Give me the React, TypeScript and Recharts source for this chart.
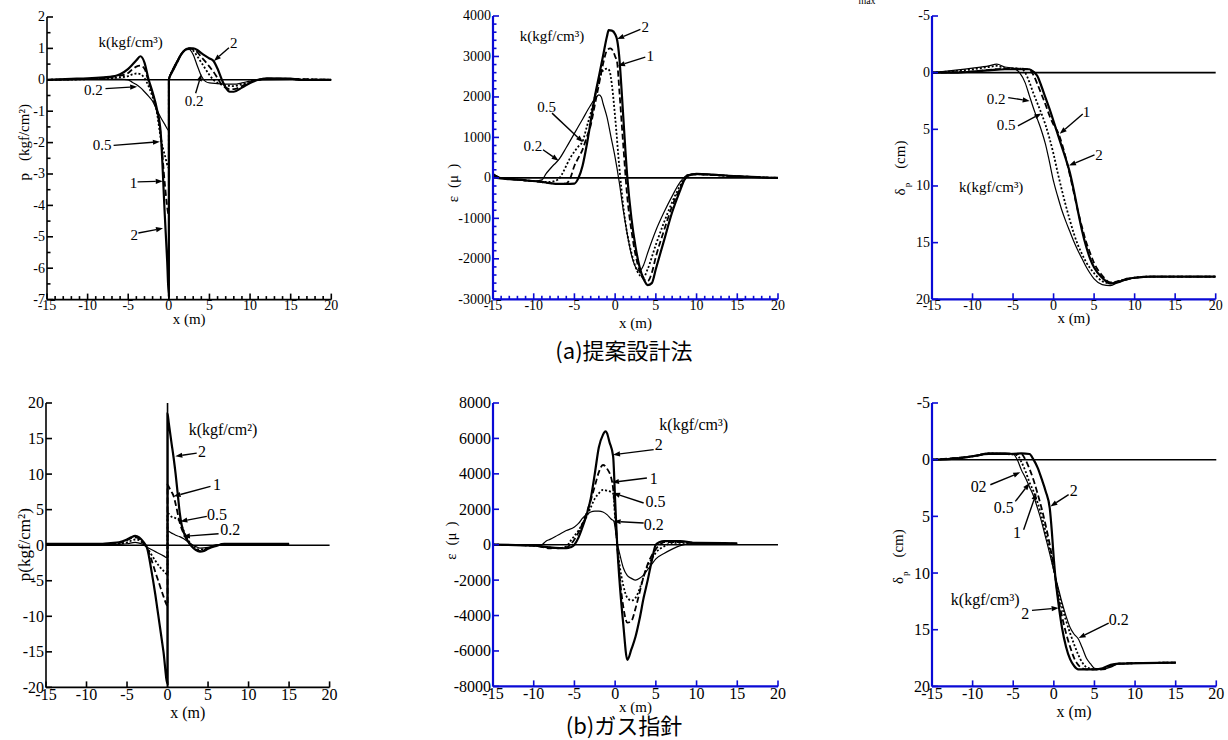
import React from 'react';
import { LineChart, Line, XAxis, YAxis, ReferenceLine, ReferenceDot } from 'recharts';

type Pt = [number, number];

// ---------------- (a) 提案設計法 : p ----------------
const pA_k2: Pt[] = [[-15,0],[-12,0.03],[-10,0.05],[-8,0.08],[-7,0.1],[-6,0.18],[-5,0.35],[-4.5,0.48],[-4,0.62],[-3.5,0.75],[-3,0.55],[-2.5,0.02],[-2,-0.4],[-1.5,-0.9],[-1,-1.7],[-0.5,-4.3],[-0.2,-5.8],[0,-6.9],[0,0],[0.3,0.2],[0.5,0.3],[1,0.55],[1.5,0.8],[2,0.95],[2.5,1.0],[3,1.0],[3.5,0.95],[4,0.85],[4.5,0.76],[5,0.68],[5.5,0.6],[6,0.35],[6.5,0.02],[7,-0.25],[7.5,-0.38],[8,-0.38],[9,-0.25],[10,-0.1],[11,0],[12,0.05],[15,0.04],[16,0],[20,0]];
const pA_k1: Pt[] = [[-15,0],[-10,0.03],[-8,0.06],[-7,0.1],[-6,0.13],[-5,0.22],[-4.5,0.33],[-4,0.42],[-3.5,0.45],[-3,0.35],[-2.5,-0.05],[-2,-0.45],[-1.5,-0.95],[-1,-1.75],[-0.5,-3.3],[0,-4.3],[0,0],[0.5,0.3],[1,0.55],[1.5,0.8],[2,0.95],[2.5,1.0],[3,0.97],[3.5,0.88],[4,0.72],[4.5,0.58],[5,0.42],[5.5,0.25],[6,0.05],[6.5,-0.15],[7,-0.25],[7.5,-0.3],[8,-0.3],[9,-0.2],[10,-0.08],[11,0],[12,0.04],[15,0.03],[20,0]];
const pA_k05: Pt[] = [[-15,0],[-10,0.02],[-8,0.04],[-6,0.08],[-5,0.12],[-4.5,0.17],[-4,0.2],[-3.5,0.18],[-3,0.05],[-2.5,-0.2],[-2,-0.55],[-1.5,-1.0],[-1,-1.85],[-0.5,-2.4],[0,-2.8],[0,0],[0.5,0.32],[1,0.57],[1.5,0.8],[2,0.95],[2.5,1.0],[3,0.93],[3.5,0.75],[4,0.55],[4.5,0.35],[5,0.15],[5.5,0],[6,-0.1],[7,-0.18],[8,-0.2],[9,-0.14],[10,-0.05],[11,0],[12,0.03],[15,0.02],[20,0]];
const pA_k02: Pt[] = [[-15,0],[-10,0.01],[-8,0.02],[-6,0.02],[-5,0],[-4.5,-0.08],[-4,-0.15],[-3.5,-0.25],[-3,-0.38],[-2.5,-0.52],[-2,-0.68],[-1.5,-0.95],[-1,-1.2],[-0.5,-1.42],[0,-1.62],[0,0],[0.5,0.35],[1,0.6],[1.5,0.82],[2,0.95],[2.5,0.97],[3,0.8],[3.5,0.45],[4,0.12],[4.5,-0.05],[5,-0.1],[6,-0.12],[7,-0.14],[8,-0.14],[9,-0.1],[10,-0.04],[11,0],[15,0.01],[20,0]];

// ---------------- (a) : ε ----------------
const eA_k2: Pt[] = [[-15,100],[-14.5,0],[-13,-30],[-11,-60],[-9,-100],[-8,-130],[-7,-150],[-6,-150],[-5,-140],[-4.5,0],[-4,300],[-3.5,800],[-3,1400],[-2.5,2000],[-2,2500],[-1.5,3000],[-1,3500],[-0.8,3650],[-0.4,3640],[0,3550],[0.25,3400],[0.5,3000],[0.75,2300],[1,1500],[1.5,0],[2,-1000],[2.5,-1700],[3,-2200],[3.5,-2500],[4,-2650],[4.5,-2600],[5,-2250],[5.5,-1900],[6,-1550],[7,-850],[8,-300],[8.5,-50],[9,60],[10,100],[12,80],[14,50],[16,30],[18,10],[20,0]];
const eA_k1: Pt[] = [[-15,80],[-14,0],[-12,-40],[-10,-80],[-8,-130],[-7,-150],[-6,-140],[-5.5,0],[-5,300],[-4.5,500],[-4,700],[-3.5,1000],[-3,1300],[-2.5,1800],[-2,2300],[-1.5,2800],[-1,3150],[-0.6,3200],[-0.3,3150],[0,3000],[0.25,2850],[0.5,2200],[1,800],[1.5,-500],[2,-1300],[2.5,-1900],[3,-2300],[3.5,-2500],[4,-2550],[4.5,-2350],[5,-1950],[6,-1300],[7,-700],[8,-250],[8.5,-50],[9,60],[10,90],[12,70],[15,40],[20,0]];
const eA_k05: Pt[] = [[-15,60],[-14,0],[-12,-40],[-10,-80],[-8,-100],[-7,-40],[-6.5,100],[-6,300],[-5.5,500],[-5,650],[-4.5,780],[-4,900],[-3.5,1250],[-3,1600],[-2.5,2000],[-2,2400],[-1.5,2650],[-1,2700],[-0.7,2650],[-0.4,2300],[0,1500],[0.5,300],[1,-700],[1.5,-1400],[2,-1850],[2.5,-2200],[3,-2400],[3.5,-2450],[4,-2250],[5,-1650],[6,-1100],[7,-600],[8,-180],[8.5,0],[9,70],[10,90],[12,70],[15,40],[20,0]];
const eA_k02: Pt[] = [[-15,100],[-14,0],[-12,-50],[-10,-80],[-9,-50],[-8.5,100],[-8,220],[-7.5,330],[-7,430],[-6,750],[-5,1100],[-4,1450],[-3,1800],[-2.5,1950],[-2,2050],[-1.7,2000],[-1.5,1850],[-1,1500],[-0.5,1000],[0,500],[0.5,-100],[1,-800],[1.5,-1400],[2,-1900],[2.5,-2200],[3,-2300],[3.5,-2150],[4,-1850],[5,-1300],[6,-850],[7,-450],[8,-100],[8.5,20],[9,80],[10,100],[12,80],[15,40],[20,0]];

// ---------------- (a) : δp ----------------
const dA_k2: Pt[] = [[-15,0],[-12,0],[-10,-0.1],[-8,-0.2],[-6,-0.3],[-4,-0.3],[-3,-0.3],[-2.5,-0.1],[-2,0.3],[-1.5,1.2],[-1,2.2],[-0.5,3.2],[0,4.3],[0.5,5.4],[1,6.5],[1.5,7.6],[2,8.8],[2.5,10.4],[3,12.2],[3.5,13.9],[4,15.3],[4.5,16.4],[5,17.2],[6,18.1],[7,18.6],[8,18.5],[9,18.2],[10,18.1],[12,18.0],[15,18.0],[20,18.0]];
const dA_k1: Pt[] = [[-15,0],[-10,-0.1],[-8,-0.25],[-6,-0.35],[-4,-0.35],[-3,-0.3],[-2.5,0.2],[-2,1.0],[-1.5,1.9],[-1,2.8],[-0.5,3.8],[0,4.6],[0.5,5.2],[1,6.2],[1.5,7.5],[2,9.0],[2.5,10.6],[3,12.2],[3.5,13.6],[4,14.9],[4.5,15.9],[5,16.8],[6,17.9],[7,18.5],[8,18.4],[10,18.1],[12,18.0],[20,18.0]];
const dA_k05: Pt[] = [[-15,0],[-10,-0.3],[-8,-0.5],[-7,-0.6],[-6,-0.4],[-4,-0.35],[-3.5,0],[-3,0.8],[-2.5,1.8],[-2,2.7],[-1.5,3.6],[-1,4.6],[-0.5,5.8],[0,7.2],[0.5,8.8],[1,10.3],[1.5,11.7],[2,13.0],[2.5,14.2],[3,15.2],[3.5,16.0],[4,16.7],[5,17.7],[6,18.4],[7,18.6],[8,18.4],[10,18.1],[12,18.0],[20,18.0]];
const dA_k02: Pt[] = [[-15,0],[-10,-0.4],[-8,-0.6],[-7,-0.75],[-6,-0.5],[-5,-0.4],[-4.2,0],[-3.5,0.9],[-3,2.0],[-2.5,3.1],[-2,4.1],[-1.5,5.1],[-1,6.3],[-0.5,7.9],[0,9.6],[0.5,10.9],[1,12.1],[1.5,13.1],[2,14.0],[2.5,14.9],[3,15.7],[3.5,16.4],[4,17.1],[4.5,17.7],[5,18.2],[6,18.7],[7,18.8],[8,18.5],[9,18.3],[10,18.1],[12,18.0],[20,18.0]];

// ---------------- (b) ガス指針 : p ----------------
const pB_k2: Pt[] = [[-15,0.2],[-10,0.2],[-8,0.2],[-7,0.3],[-6,0.4],[-5,0.8],[-4.5,1.1],[-4,1.3],[-3.5,1.1],[-3,0.5],[-2.5,-0.5],[-2,-3.5],[-1.5,-7],[-1,-11],[-0.5,-15],[0,-19.5],[0,18.5],[0.15,17.2],[0.5,14.3],[0.75,12.3],[1,10],[1.25,7.3],[1.5,4.6],[1.75,2.8],[2,1.8],[2.5,0.6],[3,-0.2],[3.5,-0.7],[4,-0.9],[4.5,-0.8],[5,-0.5],[6,-0.1],[7,0.2],[10,0.2],[15,0.2]];
const pB_k1: Pt[] = [[-15,0.1],[-8,0.15],[-6,0.3],[-5,0.7],[-4.5,1.0],[-4,1.1],[-3.5,0.9],[-3,0.3],[-2.5,-0.5],[-2,-2.0],[-1.5,-3.8],[-1,-5.5],[-0.5,-7.2],[0,-8.5],[0,8.5],[0.25,8.0],[0.5,7.5],[0.75,6.9],[1,5.8],[1.5,3.2],[2,1.6],[2.5,0.6],[3,-0.1],[3.5,-0.6],[4,-0.8],[4.5,-0.7],[5,-0.4],[6,0],[7,0.15],[15,0.15]];
const pB_k05: Pt[] = [[-15,0.1],[-8,0.1],[-6,0.2],[-5,0.4],[-4,0.8],[-3.5,0.7],[-3,0.2],[-2.5,-0.4],[-2,-1.3],[-1.5,-2.2],[-1,-3.0],[-0.5,-3.6],[0,-4.1],[0,4.5],[0.5,4.0],[1,3.8],[1.5,3.4],[2,2.0],[2.5,0.8],[3,0],[3.5,-0.4],[4,-0.6],[5,-0.4],[6,0],[7,0.1],[15,0.1]];
const pB_k02: Pt[] = [[-15,0.1],[-8,0.1],[-6,0.1],[-5,0.2],[-4,0.4],[-3.5,0.3],[-3,0.1],[-2.5,-0.3],[-2,-0.6],[-1.5,-0.9],[-1,-1.2],[-0.5,-1.5],[0,-1.8],[0,2.0],[0.5,1.7],[1,1.4],[1.5,1.2],[2,0.9],[2.5,0.5],[3,0.1],[3.5,-0.2],[4,-0.4],[5,-0.3],[6,0],[7,0.1],[15,0.1]];

// ---------------- (b) : ε ----------------
const eB_k2: Pt[] = [[-15,0],[-10,-50],[-8,-150],[-6,-200],[-5.5,-150],[-5,0],[-4.5,400],[-4,1000],[-3.5,1700],[-3,2600],[-2.5,4000],[-2,5500],[-1.5,6200],[-1.2,6400],[-1,6300],[-0.7,5800],[-0.25,5000],[0,2500],[0.25,0],[0.5,-1800],[1,-4500],[1.5,-6500],[2,-5900],[2.5,-5200],[3,-4200],[3.5,-3000],[4,-2000],[4.5,-900],[5,0],[5.5,150],[6,200],[8,200],[10,100],[15,80]];
const eB_k1: Pt[] = [[-15,0],[-10,-50],[-8,-200],[-6,-150],[-5.5,0],[-5,300],[-4.5,700],[-4,1200],[-3.5,1800],[-3,2500],[-2.5,3300],[-2,4100],[-1.5,4500],[-1,4300],[-0.35,3500],[0,1800],[0.25,0],[0.5,-1500],[1,-3500],[1.5,-4400],[2,-4300],[2.5,-3600],[3,-2700],[3.5,-1800],[4,-1100],[4.5,-600],[5,-250],[5.5,0],[6,150],[8,150],[10,100],[15,50]];
const eB_k05: Pt[] = [[-15,0],[-10,-50],[-9,-100],[-7,-200],[-6,-100],[-5.5,200],[-5,500],[-4.5,800],[-4,1200],[-3.5,1600],[-3,2100],[-2.5,2600],[-2,2900],[-1.5,3100],[-1,3050],[-0.25,2900],[0,1500],[0.25,0],[0.5,-1000],[1,-2300],[1.5,-3000],[2,-3150],[2.5,-3000],[3,-2500],[3.5,-1800],[4,-1200],[4.5,-800],[5,-450],[6,-100],[7,100],[8,100],[10,50],[15,50]];
const eB_k02: Pt[] = [[-15,0],[-10,-50],[-9,0],[-8.5,200],[-8,300],[-7,550],[-6,800],[-5,1000],[-4.5,1200],[-4,1500],[-3.5,1700],[-3,1850],[-2.5,1900],[-2,1900],[-1.5,1850],[-1,1700],[-0.5,1450],[-0.15,1320],[0.1,600],[0.3,0],[0.5,-400],[1,-1300],[1.5,-1750],[2,-1900],[2.5,-2000],[3,-1900],[3.5,-1700],[4,-1400],[4.5,-1100],[5,-800],[6,-500],[7,-250],[8,-50],[9,50],[10,50],[15,50]];

// ---------------- (b) : δp ----------------
const dB_k2: Pt[] = [[-15,0],[-12,-0.1],[-10,-0.3],[-8,-0.5],[-6,-0.5],[-4,-0.55],[-3,-0.5],[-2.5,0],[-2,0.7],[-1.5,1.7],[-1,2.8],[-0.5,4.3],[-0.25,6.3],[0,8.8],[0.25,10.8],[0.5,12.3],[1,14.8],[1.5,16.5],[2,17.6],[2.5,18.2],[3,18.5],[4,18.5],[5,18.5],[6,18.4],[7,18.1],[8,18.0],[15,17.9]];
const dB_k1: Pt[] = [[-15,0],[-10,-0.3],[-8,-0.5],[-6,-0.5],[-4,-0.5],[-3.5,0],[-3,0.8],[-2.5,1.8],[-2,3.0],[-1.5,4.3],[-1,5.8],[-0.5,7.5],[0,9.5],[0.5,12.0],[1,13.8],[1.5,15.3],[2,16.5],[2.5,17.5],[3,18.1],[3.5,18.4],[4,18.5],[6,18.5],[7,18.2],[8,18.0],[15,17.9]];
const dB_k05: Pt[] = [[-15,0],[-10,-0.3],[-8,-0.55],[-6,-0.5],[-4.5,-0.4],[-4,0.2],[-3.5,1.0],[-3,2.0],[-2.5,2.8],[-2,3.8],[-1.5,5.0],[-1,6.4],[-0.5,8.0],[0,9.7],[0.5,11.5],[1,13.0],[1.5,14.2],[2,15.3],[2.5,16.3],[3,17.2],[3.5,17.9],[4,18.3],[5,18.5],[6,18.5],[7,18.2],[8,18.0],[15,17.9]];
const dB_k02: Pt[] = [[-15,0],[-10,-0.3],[-8,-0.6],[-6,-0.6],[-5,-0.5],[-4.5,0],[-4,0.9],[-3.5,1.6],[-3,2.4],[-2.5,3.2],[-2,4.3],[-1.5,5.5],[-1,6.9],[-0.5,8.3],[0,9.8],[0.5,11.2],[1,12.6],[1.5,13.8],[2,14.8],[2.5,15.4],[3,15.8],[3.5,16.6],[4,17.5],[4.5,18.0],[5,18.4],[6,18.5],[7,18.3],[8,18.0],[15,17.9]];

// ---------------- tick labels ----------------
const xMajors = [-15, -10, -5, 0, 5, 10, 15, 20];
const yMajorsPA = [-7, -6, -5, -4, -3, -2, -1, 0, 1, 2];
const yMajorsEA = [-3000, -2000, -1000, 0, 1000, 2000, 3000, 4000];
const yMajorsD = [-5, 0, 5, 10, 15, 20];
const yMajorsPB = [-20, -15, -10, -5, 0, 5, 10, 15, 20];
const yMajorsEB = [-8000, -6000, -4000, -2000, 0, 2000, 4000, 6000, 8000];

// ---------------- annotations (data coordinates) ----------------
type Ann = { text: string; tx: number; ty: number; arrow?: [number, number, number, number] };
const annPA: Ann[] = [
  { text: 'k(kgf/cm³)', tx: -4.7, ty: 1.2 },
  { text: '2', tx: 8.0, ty: 1.17, arrow: [7.4, 1.02, 5.55, 0.6] },
  { text: '0.2', tx: -9.3, ty: -0.31, arrow: [-7.8, -0.28, -3.9, -0.22] },
  { text: '0.2', tx: 3.1, ty: -0.66, arrow: [3.3, -0.43, 4.0, 0.18] },
  { text: '0.5', tx: -8.2, ty: -2.09, arrow: [-6.8, -2.09, -1.1, -1.97] },
  { text: '1', tx: -4.35, ty: -3.28, arrow: [-3.85, -3.25, -0.75, -3.23] },
  { text: '2', tx: -4.25, ty: -4.94, arrow: [-3.75, -4.88, -0.72, -4.73] },
];
const annEA: Ann[] = [
  { text: 'k(kgf/cm³)', tx: -7.75, ty: 3500 },
  { text: '2', tx: 3.7, ty: 3740, arrow: [3.1, 3670, 0.25, 3430] },
  { text: '1', tx: 4.3, ty: 3000, arrow: [3.7, 2985, 0.35, 2770] },
  { text: '0.5', tx: -8.4, ty: 1740, arrow: [-7.75, 1600, -3.95, 880] },
  { text: '0.2', tx: -10.1, ty: 800, arrow: [-8.86, 695, -6.94, 425] },
];
const annDA: Ann[] = [
  { text: 'k(kgf/cm³)', tx: -7.7, ty: 10.1 },
  { text: '0.2', tx: -7.1, ty: 2.35, arrow: [-5.6, 2.2, -2.95, 2.5] },
  { text: '0.5', tx: -5.85, ty: 4.62, arrow: [-4.4, 4.7, -1.5, 3.6] },
  { text: '1', tx: 4.05, ty: 3.44, arrow: [3.6, 3.65, 0.76, 5.4] },
  { text: '2', tx: 5.6, ty: 7.26, arrow: [5.05, 7.26, 1.9, 8.2] },
];
const annPB: Ann[] = [
  { text: 'k(kgf/cm²)', tx: 6.85, ty: 16.3 },
  { text: '2', tx: 4.25, ty: 13.2, arrow: [3.6, 12.95, 0.96, 12.5] },
  { text: '1', tx: 6.1, ty: 8.5, arrow: [5.3, 8.27, 0.75, 6.87] },
  { text: '0.5', tx: 6.1, ty: 4.3, arrow: [4.85, 4.06, 1.58, 3.35] },
  { text: '0.2', tx: 7.75, ty: 2.18, arrow: [6.3, 1.62, 1.9, 1.24] },
];
const annEB: Ann[] = [
  { text: 'k(kgf/cm³)', tx: 9.65, ty: 6780 },
  { text: '2', tx: 5.35, ty: 5650, arrow: [4.73, 5365, -0.26, 5082] },
  { text: '1', tx: 4.75, ty: 3765, arrow: [3.9, 3765, -0.39, 3520] },
  { text: '0.5', tx: 4.95, ty: 2447, arrow: [3.5, 2353, -0.26, 2918] },
  { text: '0.2', tx: 4.75, ty: 1130, arrow: [3.5, 1224, -0.18, 1318] },
];
const annDB: Ann[] = [
  { text: 'k(kgf/cm³)', tx: -8.45, ty: 12.35 },
  { text: '02', tx: -9.26, ty: 2.41, arrow: [-7.82, 2.21, -4.13, 1.12] },
  { text: '0.5', tx: -6.18, ty: 4.26, arrow: [-4.74, 3.68, -2.98, 2.06] },
  { text: '1', tx: -4.54, ty: 6.41, arrow: [-3.72, 6.18, -2.16, 2.94] },
  { text: '2', tx: 2.44, ty: 2.71, arrow: [1.82, 3.09, -0.43, 4.12] },
  { text: '2', tx: -3.51, ty: 13.59, arrow: [-2.69, 13.29, 0.59, 13.09] },
  { text: '0.2', tx: 7.98, ty: 14.06, arrow: [6.75, 14.41, 3.05, 15.74] },
];

// ---------------- styling ----------------
const SERIF = '"Liberation Serif", "DejaVu Serif", serif';
const SERIF_STYLE: React.CSSProperties = { fontFamily: SERIF };
const GOTHIC_STYLE: React.CSSProperties = { fontFamily: '"Noto Sans CJK JP", sans-serif' };
const BLUE = '#0a0ad6';
const STYLES = {
  k2: { strokeWidth: 2.2, dash: undefined as string | undefined },
  k1: { strokeWidth: 1.8, dash: '6 3' },
  k05: { strokeWidth: 1.8, dash: '2 2' },
  k02: { strokeWidth: 1.2, dash: undefined as string | undefined },
};

const AXIS_W = 52;
const M_TOP = 12;
const M_RIGHT = 12;
const AXIS_H = 44;

function withMinor(majors: number[], step: number | null): number[] {
  if (!step) return majors;
  const out: number[] = [];
  for (let i = 0; i < majors.length - 1; i++) {
    const a = majors[i], b = majors[i + 1];
    const n = Math.round((b - a) / step);
    for (let j = 0; j < n; j++) out.push(+(a + j * step).toFixed(6));
  }
  out.push(majors[majors.length - 1]);
  return out;
}

const isIn = (arr: number[], v: number) => arr.some((m) => Math.abs(m - v) < 1e-6);

function arrowShape(props: any) {
  const { x1, y1, x2, y2 } = props;
  const ang = Math.atan2(y2 - y1, x2 - x1);
  const L = 7, Wd = 2.6;
  const bx = x2 - L * Math.cos(ang), by = y2 - L * Math.sin(ang);
  const px = -Math.sin(ang) * Wd, py = Math.cos(ang) * Wd;
  return (
    <g>
      <line x1={x1} y1={y1} x2={bx} y2={by} stroke="#000" strokeWidth={1.4} />
      <polygon points={`${x2},${y2} ${bx + px},${by + py} ${bx - px},${by - py}`} fill="#000" />
    </g>
  );
}

interface PanelCfg {
  plot: { left: number; top: number; width: number; height: number };
  yDomain: [number, number];
  reversed?: boolean;
  xMinor: number | null;
  yMajors: number[];
  yMinor: number | null;
  color: string;
  axisW: number;
  tickFont: number;
  annFont: number;
  series: { data: Pt[]; key: keyof typeof STYLES }[];
  anns: Ann[];
  vline?: [number, number];
  xLabel: { text: string; dy: number; font: number };
  yLabel: { cx: number; cy: number; node: React.ReactNode; font: number };
}

function Panel({ cfg }: { cfg: PanelCfg }) {
  const { plot } = cfg;
  const chartLeft = plot.left - AXIS_W;
  const chartTop = plot.top - M_TOP;
  const cw = AXIS_W + plot.width + M_RIGHT;
  const ch = M_TOP + plot.height + AXIS_H;
  const xTicks = withMinor(xMajors, cfg.xMinor);
  const yTicks = withMinor(cfg.yMajors, cfg.yMinor);

  const xTick = (p: any) => {
    const v = p.payload.value;
    const major = isIn(xMajors, v);
    return (
      <g>
        <line x1={p.x} x2={p.x} y1={p.y} y2={p.y - (major ? 6 : 3.5)} stroke={cfg.color} strokeWidth={1.6} />
        {major && (
          <text x={p.x} y={p.y + 1} textAnchor="middle" dominantBaseline="hanging" style={SERIF_STYLE} fontSize={cfg.tickFont} fill="#000">
            {String(v)}
          </text>
        )}
      </g>
    );
  };
  const yTick = (p: any) => {
    const v = p.payload.value;
    const major = isIn(cfg.yMajors, v);
    return (
      <g>
        <line x1={p.x} x2={p.x + (major ? 6 : 3.5)} y1={p.y} y2={p.y} stroke={cfg.color} strokeWidth={1.6} />
        {major && (
          <text x={p.x - 2} y={p.y} textAnchor="end" dominantBaseline="central" style={SERIF_STYLE} fontSize={cfg.tickFont} fill="#000">
            {String(v)}
          </text>
        )}
      </g>
    );
  };

  const xLabelContent = (lp: any) => {
    const vb = lp.viewBox || {};
    return (
      <text x={vb.x + vb.width / 2} y={vb.y + cfg.xLabel.dy} textAnchor="middle" dominantBaseline="central" style={SERIF_STYLE} fontSize={cfg.xLabel.font} fill="#000">
        {cfg.xLabel.text}
      </text>
    );
  };
  const yLabelContent = () => {
    const cx = cfg.yLabel.cx - chartLeft;
    const cy = cfg.yLabel.cy - chartTop;
    return (
      <text x={cx} y={cy} transform={`rotate(-90 ${cx} ${cy})`} textAnchor="middle" dominantBaseline="central" style={SERIF_STYLE} fontSize={cfg.yLabel.font} fill="#000">
        {cfg.yLabel.node}
      </text>
    );
  };

  return (
    <div style={{ position: 'absolute', left: chartLeft, top: chartTop, width: cw, height: ch }}>
      <LineChart width={cw} height={ch} margin={{ top: M_TOP, right: M_RIGHT, bottom: 0, left: 0 }}>
        <XAxis
          dataKey="x"
          type="number"
          domain={[-15, 20]}
          allowDataOverflow
          ticks={xTicks}
          interval={0}
          tick={xTick}
          tickSize={0}
          tickMargin={0}
          tickLine={false}
          height={AXIS_H}
          axisLine={{ stroke: cfg.color, strokeWidth: cfg.axisW }}
          label={xLabelContent}
        />
        <YAxis
          type="number"
          domain={cfg.yDomain}
          allowDataOverflow
          reversed={cfg.reversed}
          ticks={yTicks}
          interval={0}
          tick={yTick}
          tickSize={0}
          tickMargin={0}
          tickLine={false}
          width={AXIS_W}
          axisLine={{ stroke: cfg.color, strokeWidth: cfg.axisW }}
          label={yLabelContent}
        />
        <ReferenceLine y={0} stroke="#000" strokeWidth={1.6} />
        {cfg.vline && (
          <ReferenceLine segment={[{ x: 0, y: cfg.vline[0] }, { x: 0, y: cfg.vline[1] }]} stroke="#000" strokeWidth={1.6} />
        )}
        {cfg.series.map((s, i) => (
          <Line
            key={i}
            data={s.data.map(([x, y]) => ({ x, y }))}
            dataKey="y"
            type="monotoneX"
            stroke="#000"
            strokeWidth={STYLES[s.key].strokeWidth}
            strokeDasharray={STYLES[s.key].dash}
            dot={false}
            activeDot={false}
            isAnimationActive={false}
          />
        ))}
        {cfg.anns.map((a, i) =>
          a.arrow ? (
            <ReferenceLine
              key={'a' + i}
              segment={[{ x: a.arrow[0], y: a.arrow[1] }, { x: a.arrow[2], y: a.arrow[3] }]}
              ifOverflow="visible"
              shape={arrowShape}
            />
          ) : null
        )}
        {cfg.anns.map((a, i) => (
          <ReferenceDot
            key={'t' + i}
            x={a.tx}
            y={a.ty}
            r={0}
            ifOverflow="visible"
            shape={(p: any) => (
              <text x={p.cx} y={p.cy} textAnchor="middle" dominantBaseline="central" style={SERIF_STYLE} fontSize={cfg.annFont} fill="#000">
                {a.text}
              </text>
            )}
          />
        ))}
      </LineChart>
    </div>
  );
}

const deltaLabel = (
  <>
    δ<tspan fontSize="9" dy="7" dx="1">p</tspan>
    <tspan dy="-7" dx="14">(cm)</tspan>
  </>
);
const epsLabel = (
  <>
    ε<tspan dx="8">(μ</tspan>
    <tspan dx="6">)</tspan>
  </>
);

const panels: PanelCfg[] = [
  {
    plot: { left: 46.7, top: 16.7, width: 284.3, height: 282.6 },
    yDomain: [-7, 2], xMinor: 1, yMajors: yMajorsPA, yMinor: 0.5,
    color: '#000', axisW: 1.6, tickFont: 14, annFont: 15,
    series: [{ data: pA_k02, key: 'k02' }, { data: pA_k05, key: 'k05' }, { data: pA_k1, key: 'k1' }, { data: pA_k2, key: 'k2' }],
    anns: annPA, vline: [0, -7],
    xLabel: { text: 'x  (m)', dy: 19, font: 15 },
    yLabel: { cx: 24, cy: 142, font: 15, node: (<>p<tspan dx="12">(kgf/cm²)</tspan></>) },
  },
  {
    plot: { left: 492.7, top: 16, width: 285, height: 283.3 },
    yDomain: [-3000, 4000], xMinor: 1, yMajors: yMajorsEA, yMinor: 200,
    color: BLUE, axisW: 2.2, tickFont: 14, annFont: 15,
    series: [{ data: eA_k02, key: 'k02' }, { data: eA_k05, key: 'k05' }, { data: eA_k1, key: 'k1' }, { data: eA_k2, key: 'k2' }],
    anns: annEA,
    xLabel: { text: 'x (m)', dy: 24, font: 15 },
    yLabel: { cx: 453, cy: 183, font: 15, node: epsLabel },
  },
  {
    plot: { left: 932.3, top: 16, width: 283.7, height: 283.3 },
    yDomain: [-5, 20], reversed: true, xMinor: null, yMajors: yMajorsD, yMinor: null,
    color: BLUE, axisW: 2.2, tickFont: 14, annFont: 15,
    series: [{ data: dA_k02, key: 'k02' }, { data: dA_k05, key: 'k05' }, { data: dA_k1, key: 'k1' }, { data: dA_k2, key: 'k2' }],
    anns: annDA,
    xLabel: { text: 'x (m)', dy: 19, font: 15 },
    yLabel: { cx: 900, cy: 168, font: 15, node: deltaLabel },
  },
  {
    plot: { left: 45.7, top: 403.3, width: 283.6, height: 284.4 },
    yDomain: [-20, 20], xMinor: null, yMajors: yMajorsPB, yMinor: null,
    color: '#000', axisW: 1.6, tickFont: 16, annFont: 16,
    series: [{ data: pB_k02, key: 'k02' }, { data: pB_k05, key: 'k05' }, { data: pB_k1, key: 'k1' }, { data: pB_k2, key: 'k2' }],
    anns: annPB, vline: [20, -20],
    xLabel: { text: 'x  (m)', dy: 25, font: 16 },
    yLabel: { cx: 24, cy: 545, font: 17, node: 'p(kgf/cm²)' },
  },
  {
    plot: { left: 492.7, top: 403.3, width: 285, height: 283.4 },
    yDomain: [-8000, 8000], xMinor: null, yMajors: yMajorsEB, yMinor: null,
    color: BLUE, axisW: 2.2, tickFont: 16, annFont: 16,
    series: [{ data: eB_k02, key: 'k02' }, { data: eB_k05, key: 'k05' }, { data: eB_k1, key: 'k1' }, { data: eB_k2, key: 'k2' }],
    anns: annEB,
    xLabel: { text: 'x (m)', dy: 21, font: 15 },
    yLabel: { cx: 451, cy: 541, font: 15, node: epsLabel },
  },
  {
    plot: { left: 931.7, top: 403.3, width: 284.3, height: 283.4 },
    yDomain: [-5, 20], reversed: true, xMinor: null, yMajors: yMajorsD, yMinor: null,
    color: BLUE, axisW: 2.2, tickFont: 16, annFont: 16,
    series: [{ data: dB_k02, key: 'k02' }, { data: dB_k05, key: 'k05' }, { data: dB_k1, key: 'k1' }, { data: dB_k2, key: 'k2' }],
    anns: annDB,
    xLabel: { text: 'x (m)', dy: 25, font: 16 },
    yLabel: { cx: 898, cy: 557, font: 15, node: deltaLabel },
  },
];

export default function App() {
  return (
    <div style={{ position: 'absolute', left: 0, top: 0, width: 1228, height: 740, overflow: 'hidden', background: '#fff' }}>
      {panels.map((c, i) => (
        <Panel key={i} cfg={c} />
      ))}
      <svg width={1228} height={740} style={{ position: 'absolute', left: 0, top: 0, pointerEvents: 'none' }}>
        <text x={867} y={4} textAnchor="middle" style={SERIF_STYLE} fontSize={10} fill="#000">max</text>
        <text x={624} y={359} textAnchor="middle" style={GOTHIC_STYLE} fontSize={22} fill="#000">(a)提案設計法</text>
        <text x={624} y={734} textAnchor="middle" style={GOTHIC_STYLE} fontSize={22} fill="#000">(b)ガス指針</text>
      </svg>
    </div>
  );
}
